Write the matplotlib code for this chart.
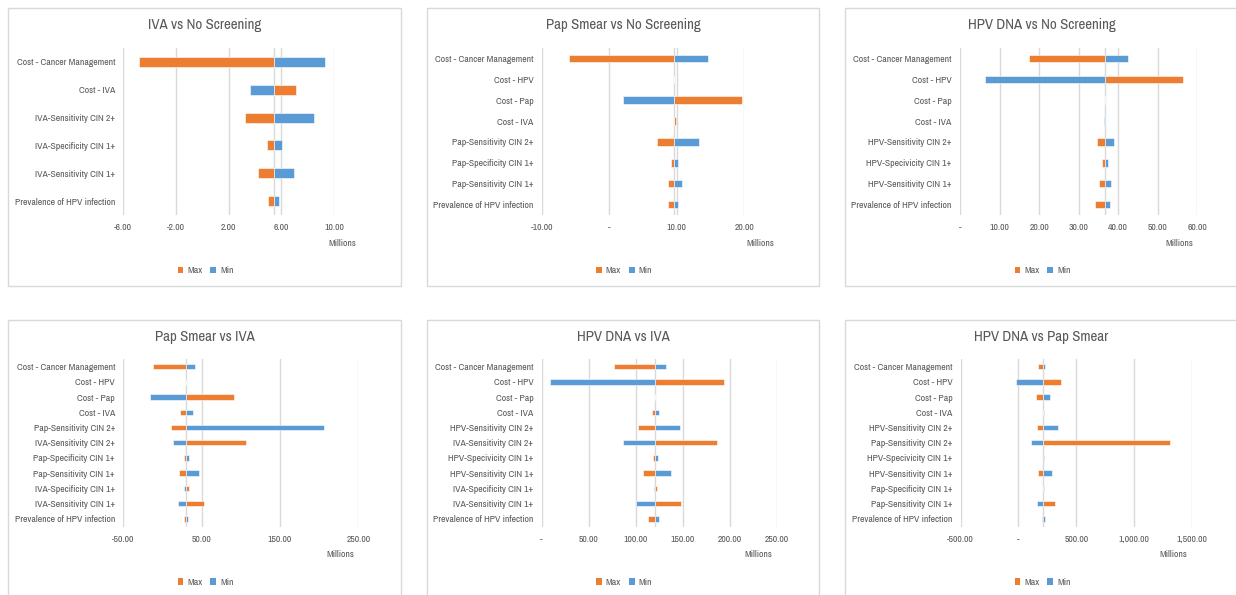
import matplotlib
matplotlib.use("Agg")
import matplotlib.pyplot as plt
from matplotlib import font_manager as fm
from matplotlib.patches import Patch, Rectangle
from matplotlib.ticker import FuncFormatter

CCM = "Cost - Cancer Management"
PREV = "Prevalence of HPV infection"

titles = ["IVA vs No Screening", "Pap Smear vs No Screening", "HPV DNA vs No Screening",
          "Pap Smear vs IVA", "HPV DNA vs IVA", "HPV DNA vs Pap Smear"]

# IVA vs No Screening
cats1 = [CCM, "Cost - IVA", "IVA-Sensitivity CIN 2+", "IVA-Specificity CIN 1+",
         "IVA-Sensitivity CIN 1+", PREV]
base1 = 5.42
max1 = [-4.84, 7.09, 3.27, 4.94, 4.25, 4.99]
min1 = [9.34, 3.65, 8.46, 6.05, 6.94, 5.80]
ticks1 = [-6, -2, 2, 6, 10]

# Pap Smear vs No Screening
cats2 = [CCM, "Cost - HPV", "Cost - Pap", "Cost - IVA", "Pap-Sensitivity CIN 2+",
         "Pap-Specificity CIN 1+", "Pap-Sensitivity CIN 1+", PREV]
base2 = 9.62
max2 = [-5.92, 9.62, 19.59, 9.82, 7.00, 9.18, 8.73, 8.73]
min2 = [14.65, 9.62, 2.07, 9.62, 13.32, 10.16, 10.75, 10.16]
ticks2 = [-10, 0, 10, 20]

# HPV DNA vs No Screening
cats3 = [CCM, "Cost - HPV", "Cost - Pap", "Cost - IVA", "HPV-Sensitivity CIN 2+",
         "HPV-Specivicity CIN 1+", "HPV-Sensitivity CIN 1+", PREV]
base3 = 36.68
max3 = [17.45, 56.40, 36.68, 36.68, 34.57, 36.00, 35.16, 34.15]
min3 = [42.58, 6.24, 36.68, 36.40, 39.04, 37.35, 38.20, 38.03]
ticks3 = [0, 10, 20, 30, 40, 50, 60]

# Pap Smear vs IVA
cats4 = [CCM, "Cost - HPV", "Cost - Pap", "Cost - IVA", "Pap-Sensitivity CIN 2+",
         "IVA-Sensitivity CIN 2+", "Pap-Specificity CIN 1+", "Pap-Sensitivity CIN 1+",
         "IVA-Specificity CIN 1+", "IVA-Sensitivity CIN 1+", PREV]
base4 = 30.0
max4 = [-11.7, 30.0, 91.7, 22.8, 11.3, 106.2, 27.9, 21.5, 34.3, 52.6, 27.9]
min4 = [41.5, 30.0, -16.0, 39.4, 206.2, 13.4, 34.3, 46.6, 27.9, 19.8, 32.1]
ticks4 = [-50, 50, 150, 250]

# HPV DNA vs IVA
cats5 = [CCM, "Cost - HPV", "Cost - Pap", "Cost - IVA", "HPV-Sensitivity CIN 2+",
         "IVA-Sensitivity CIN 2+", "HPV-Specivicity CIN 1+", "HPV-Sensitivity CIN 1+",
         "IVA-Specificity CIN 1+", "IVA-Sensitivity CIN 1+", PREV]
base5 = 120.9
max5 = [77.3, 194.0, 120.9, 117.4, 102.5, 186.5, 118.4, 107.8, 122.3, 148.6, 113.1]
min5 = [131.9, 8.5, 120.9, 125.2, 147.5, 86.2, 123.4, 137.2, 119.1, 100.7, 125.2]
ticks5 = [0, 50, 100, 150, 200, 250]

# HPV DNA vs Pap Smear
cats6 = [CCM, "Cost - HPV", "Cost - Pap", "Cost - IVA", "HPV-Sensitivity CIN 2+",
         "Pap-Sensitivity CIN 2+", "HPV-Specivicity CIN 1+", "HPV-Sensitivity CIN 1+",
         "Pap-Specificity CIN 1+", "Pap-Sensitivity CIN 1+", PREV]
base6 = 214.0
max6 = [170, 372, 150, 225, 159, 1310, 214, 170, 225, 315, 202]
min6 = [228, -23, 271, 214, 343, 110, 225, 294, 214, 164, 228]
ticks6 = [-500, 0, 500, 1000, 1500]

ORANGE = "#ED7D31"
BLUE = "#5B9BD5"
GRID = "#D9D9D9"
TEXT = "#595959"

W, H = 1236, 595
fig = plt.figure(figsize=(W / 100, H / 100), dpi=100)
renderer = fig.canvas.get_renderer()

LABEL_FS = 7.0


def text_width(text, family, size):
    t = fig.text(0, 0, text, fontsize=size, family=family)
    w = t.get_window_extent(renderer).width
    t.remove()
    return w


# choose the narrow sans face whose label width suits a 7 pt label
_available = {f.name for f in fm.fontManager.ttflist}
_candidates = ["Liberation Sans Narrow", "Arial Narrow", "Roboto Condensed",
               "Archivo Narrow", "PT Sans Narrow", "Fira Sans Condensed",
               "IBM Plex Sans Condensed", "Encode Sans Condensed", "Asap Condensed",
               "Barlow Semi Condensed", "Open Sans Condensed", "Sofia Sans Condensed",
               "Liberation Sans"]
_found = [n for n in _candidates if n in _available] or ["DejaVu Sans"]
FONT = min(_found, key=lambda n: abs(text_width(CCM, n, LABEL_FS) - 98))
plt.rcParams['font.family'] = [FONT, 'DejaVu Sans']

TITLE_FS = min(10.0 * 114 / text_width(titles[0], FONT, 10.0), 12.5)


def fx(x):
    return x / W


def fy(y):
    return 1 - y / H


def acct(v, _pos=None):
    if abs(v) < 1e-9:
        return "-"
    return f"{v:,.2f}"


# panel frames (px): left, top, right, bottom
frames = [(8, 8, 401, 286), (427, 8, 819, 286), (845, 8, 1238, 286),
          (8, 320, 401, 598), (427, 320, 819, 598), (845, 320, 1238, 598)]
# plot areas (px): left, top, right, bottom
plots = [(123.3, 48, 334, 215), (541.7, 48, 744.3, 215), (960, 48, 1197.3, 215),
         (123.3, 359, 358.3, 526.5), (541.7, 359, 776.7, 526.5), (960.7, 359, 1191.7, 526.5)]
millions_x = [342, 760, 1179, 340, 758, 1173]

panels = [(cats1, base1, max1, min1, ticks1), (cats2, base2, max2, min2, ticks2),
          (cats3, base3, max3, min3, ticks3), (cats4, base4, max4, min4, ticks4),
          (cats5, base5, max5, min5, ticks5), (cats6, base6, max6, min6, ticks6)]

for i, (cats, base, mx, mn, ticks) in enumerate(panels):
    l, t, r, b = frames[i]
    fig.patches.append(Rectangle((fx(l), fy(b)), fx(r - l), (b - t) / H,
                                 transform=fig.transFigure, fill=False,
                                 edgecolor=GRID, linewidth=1.0, zorder=0))
    pl, pt, pr, pb = plots[i]
    ax = fig.add_axes([fx(pl), fy(pb), fx(pr - pl), (pb - pt) / H])
    y = list(range(len(cats)))
    ax.barh(y, [v - base for v in mx], left=base, height=0.36, color=ORANGE,
            edgecolor="white", linewidth=0.4, zorder=3, label="Max")
    ax.barh(y, [v - base for v in mn], left=base, height=0.36, color=BLUE,
            edgecolor="white", linewidth=0.4, zorder=3, label="Min")
    ax.axvline(base, color=GRID, linewidth=1.0, zorder=2)
    ax.set_xlim(ticks[0], ticks[-1])
    ax.set_ylim(len(cats) - 0.5, -0.5)
    ax.set_xticks(ticks)
    ax.xaxis.set_major_formatter(FuncFormatter(acct))
    ax.set_yticks(y)
    ax.set_yticklabels(cats)
    ax.grid(axis="x", color=GRID, linewidth=1.0, zorder=0)
    ax.set_axisbelow(True)
    for s in ax.spines.values():
        s.set_visible(False)
    ax.tick_params(axis="both", length=0, labelsize=LABEL_FS, colors=TEXT)
    ax.tick_params(axis="x", pad=6)
    ax.tick_params(axis="y", pad=6)
    ax.set_facecolor("none")

    fig.text(fx((l + r) / 2), fy(t + 17), titles[i],
             ha="center", va="center", fontsize=TITLE_FS, color=TEXT)
    fig.text(fx(millions_x[i]), fy(pb + 28), "Millions", ha="center", va="center",
             fontsize=LABEL_FS, color=TEXT)
    handles = [Patch(facecolor=ORANGE, label="Max"), Patch(facecolor=BLUE, label="Min")]
    fig.legend(handles=handles, loc="center", ncol=2,
               bbox_to_anchor=(fx((l + r) / 2 + 1), fy(pb + 56)), frameon=False,
               fontsize=LABEL_FS, labelcolor=TEXT, handlelength=0.6, handleheight=0.6,
               handletextpad=0.4, columnspacing=0.8)

fig.savefig("out.png", dpi=100, facecolor="white")
